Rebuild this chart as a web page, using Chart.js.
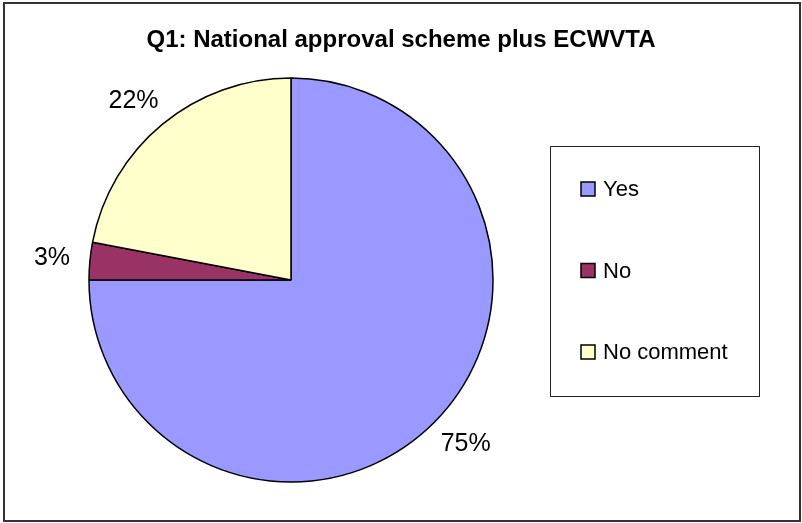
<!DOCTYPE html>
<html>
<head>
<meta charset="utf-8">
<script src="https://cdn.jsdelivr.net/npm/chart.js@4.4.1/dist/chart.umd.min.js"></script>
<style>
  body { margin: 0; background: #fff; }
  canvas { display: block; }
</style>
</head>
<body>
<canvas id="q1Chart" width="802" height="523"></canvas>
<script>
// Q1 answers, share of responses in percent
const answers = ['Yes', 'No', 'No comment'];
const shares = [75, 3, 22];
const sliceColours = ['#9999FF', '#993366', '#FFFFCC'];
const chartTitle = 'Q1: National approval scheme plus ECWVTA';

const FONT = '"Liberation Sans", Arial, sans-serif';

// frame, title and the boxed legend on the right
const framePlugin = {
  id: 'frame',
  afterDraw(chart) {
    const ctx = chart.ctx;
    ctx.save();
    ctx.strokeStyle = '#333';
    ctx.lineWidth = 2;
    ctx.strokeRect(4, 3, chart.width - 6, chart.height - 5);

    ctx.fillStyle = '#000';
    ctx.font = 'bold 24px ' + FONT;
    ctx.textAlign = 'center';
    ctx.textBaseline = 'middle';
    ctx.fillText(chartTitle, chart.width / 2, 40);

    // legend box
    const lx = 550, ly = 146, lw = 209, lh = 250;
    ctx.lineWidth = 1;
    ctx.strokeStyle = '#222';
    ctx.strokeRect(lx + 0.5, ly + 0.5, lw, lh);
    ctx.font = '22px ' + FONT;
    ctx.textAlign = 'left';
    const ds = chart.data.datasets[0];
    chart.data.labels.forEach((lab, i) => {
      const cy = ly + 43 + i * 81.5;
      ctx.fillStyle = ds.backgroundColor[i];
      ctx.fillRect(581, cy - 7, 14, 14);
      ctx.strokeStyle = '#000';
      ctx.lineWidth = 1.5;
      ctx.strokeRect(581, cy - 7, 14, 14);
      ctx.fillStyle = '#000';
      ctx.fillText(lab, 603, cy + 1);
    });
    ctx.restore();
  }
};

// percentage labels just outside each slice
const pctLabels = {
  id: 'pctLabels',
  afterDatasetsDraw(chart) {
    const ctx = chart.ctx;
    const meta = chart.getDatasetMeta(0);
    const vals = chart.data.datasets[0].data;
    const total = vals.reduce((a, b) => a + b, 0);
    ctx.save();
    ctx.font = '25px ' + FONT;
    ctx.fillStyle = '#000';
    ctx.textAlign = 'center';
    ctx.textBaseline = 'middle';
    meta.data.forEach((arc, i) => {
      const p = arc.getProps(['x', 'y', 'startAngle', 'endAngle', 'outerRadius'], true);
      const mid = (p.startAngle + p.endAngle) / 2;
      const c = Math.cos(mid), s = Math.sin(mid);
      const txt = Math.round(vals[i] / total * 100) + '%';
      const hw = ctx.measureText(txt).width / 2, hh = 10;
      const r = p.outerRadius + 20;
      ctx.fillText(txt, p.x + c * r + c * hw, p.y + s * r + s * hh);
    });
    ctx.restore();
  }
};

const q1ctx = document.getElementById('q1Chart').getContext('2d');
const q1Chart = new Chart(q1ctx, {
  type: 'pie',
  data: {
    labels: answers,
    datasets: [{
      data: shares,
      backgroundColor: sliceColours,
      borderColor: '#000',
      borderWidth: 1.5,
      hoverOffset: 0
    }]
  },
  options: {
    responsive: false,
    animation: false,
    events: [],
    radius: 202,
    layout: {
      padding: { left: 89, right: 309, top: 78, bottom: 41 }
    },
    plugins: {
      legend: { display: false },
      title: { display: false },
      tooltip: { enabled: false }
    }
  },
  plugins: [pctLabels, framePlugin]
});
</script>
</body>
</html>
